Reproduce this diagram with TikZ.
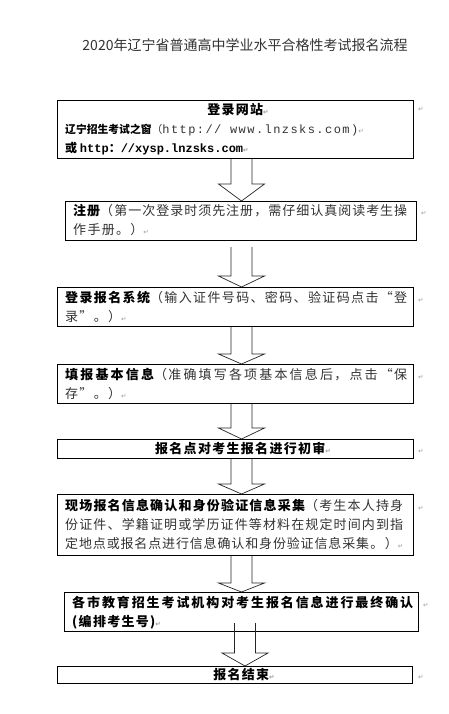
\documentclass[tikz,border=0pt]{standalone}
\usepackage{fontspec}
\setmainfont{Noto Sans CJK SC}[LetterSpace=10]
\newfontfamily\titlef{Noto Sans CJK SC}
\newfontfamily\monof{Liberation Mono}[LetterSpace=12]
\newfontfamily\monob{Liberation Mono}
\newfontfamily\dvs{DejaVu Sans}
\usetikzlibrary{calc}
\newcommand{\pmk}{{\dvs\fontsize{6.5}{6.5}\selectfont\color{black!40}↵}}
\newcommand{\cjkpar}{\XeTeXlinebreaklocale "zh"\XeTeXlinebreakskip=1.3pt plus 3pt minus 1pt\relax}
\newcommand{\rg}{\mdseries\color{black!80}}
\tikzset{
  boxst/.style={draw=black, line width=1.2pt, inner sep=0pt, anchor=north west, fill=white},
  txt/.style={inner sep=0pt, anchor=base west, font=\fontsize{13}{19}\selectfont},
  arr/.style={draw=black!85, line width=0.7pt},
  mk/.style={inner sep=0pt, anchor=base west},
}
\newcommand{\barrow}[3]{%
  \draw[arr] let \p1=(#1), \p2=(#2) in
    (\x1-10.5pt,\y1) -- (\x1-10.5pt,\y2+#3pt) -- (\x1-23pt,\y2+#3pt) -- (\x2,\y2)
    -- (\x1+23pt,\y2+#3pt) -- (\x1+10.5pt,\y2+#3pt) -- (\x1+10.5pt,\y1);}
\begin{document}
\begin{tikzpicture}[x=1pt,y=-1pt]
\useasboundingbox (0,0) rectangle (449,714);
\fill[white] (0,0) rectangle (449,714);

\node[font=\titlef\fontsize{14}{14}\selectfont, text=black!80, inner sep=0pt] (title) at (245,45) {2020年辽宁省普通高中学业水平合格性考试报名流程};

% boxes
\node[boxst, minimum width=356pt, minimum height=58pt] (b1) at (57,100) {};
\node[boxst, minimum width=351pt, minimum height=39pt] (b2) at (65,201) {};
\node[boxst, minimum width=356pt, minimum height=39pt] (b3) at (57,287) {};
\node[boxst, minimum width=356pt, minimum height=39pt] (b4) at (57,364) {};
\node[boxst, minimum width=356pt, minimum height=19pt] (b5) at (57,439) {};
\node[boxst, minimum width=356pt, minimum height=61pt] (b6) at (57,494) {};
\node[boxst, minimum width=354pt, minimum height=39pt] (b7) at (64,592) {};
\node[boxst, minimum width=355pt, minimum height=17pt] (b8) at (57,666) {};

% arrows
\coordinate (ax) at (241.5,0);
\coordinate (ax7) at (245,0);
\barrow{b1.south -| ax}{b2.north -| ax}{17}
\barrow{$(b2.south -| ax)+(0,6)$}{b3.north -| ax}{11}
\barrow{b3.south -| ax}{b4.north -| ax}{10}
\barrow{b4.south -| ax}{b5.north -| ax}{11}
\barrow{b5.south -| ax}{b6.north -| ax}{10}
\barrow{b6.south -| ax}{b7.north -| ax}{9}
\barrow{$(b7.south -| ax7)+(0,-9)$}{b8.north -| ax7}{13}

% texts
\node[txt, anchor=base] (t1a) at (238,115) {\bfseries 登录网站\pmk};
\node[txt] (t1b) at (65,134) {\titlef\fontsize{10.8}{19}\selectfont\bfseries 辽宁招生考试之窗\rg（{\monof\fontsize{12}{19}\selectfont http:// www.lnzsks.com)}\pmk};
\node[txt] (t1c) at (65,153) {\titlef\fontsize{12}{19}\selectfont\bfseries 或 {\monob\fontsize{12}{19}\selectfont http}：{\monob\fontsize{12}{19}\selectfont //xysp.lnzsks.com}\pmk};

\node[txt] (t2) at (73,215) {\parbox[t]{334pt}{\cjkpar\bfseries 注册\rg（第一次登录时须先注册，需仔细认真阅读考生操\linebreak 作手册。）\pmk}};
\node[txt] (t3) at (65,302) {\parbox[t]{342pt}{\cjkpar\bfseries 登录报名系统\rg（输入证件号码、密码、验证码点击“登\linebreak 录”。）\pmk}};
\node[txt] (t4) at (65,379) {\parbox[t]{342pt}{\cjkpar\bfseries 填报基本信息\rg （准确填写各项基本信息后，点击“保\linebreak 存”。）\pmk}};
\node[txt, anchor=base] (t5) at (243,453) {\bfseries 报名点对考生报名进行初审\pmk};
\node[txt] (t6) at (65,510) {\parbox[t]{338pt}{\cjkpar\bfseries 现场报名信息确认和身份验证信息采集\rg（考生本人持身\linebreak 份证件、学籍证明或学历证件等材料在规定时间内到指\linebreak 定地点或报名点进行信息确认和身份验证信息采集。）\pmk}};
\node[txt] (t7) at (72,607) {\parbox[t]{341pt}{\cjkpar\bfseries 各市教育招生考试机构对考生报名信息进行最终确认\linebreak (编排考生号)\pmk}};
\node[txt, anchor=base] (t8) at (244,679.5) {\bfseries 报名结束\pmk};

% outside paragraph marks
\node[mk] (m1) at (418,112) {\pmk};
\node[mk] (m2) at (421,215) {\pmk};
\node[mk] (m3) at (418,302) {\pmk};
\node[mk] (m4) at (418,379) {\pmk};
\node[mk] (m5) at (418,453) {\pmk};
\node[mk] (m6) at (418,510) {\pmk};
\node[mk] (m7) at (423,607) {\pmk};
\node[mk] (m8) at (418,679.5) {\pmk};
\end{tikzpicture}
\end{document}
